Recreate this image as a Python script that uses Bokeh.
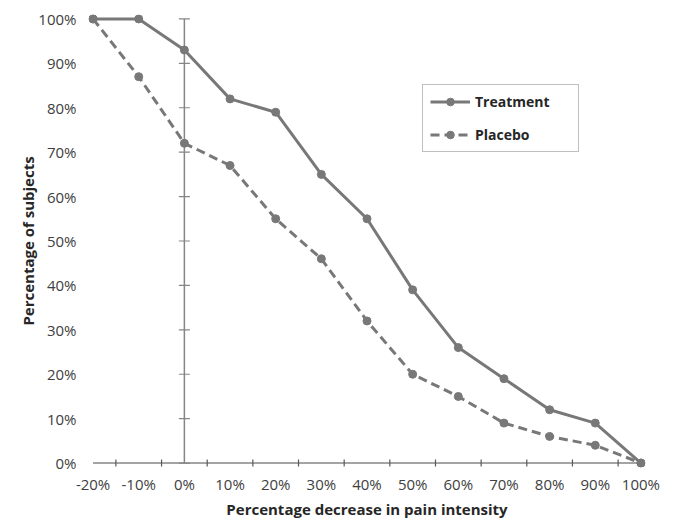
import math
from bokeh.plotting import figure
from bokeh.models import Range1d, FixedTicker, Legend, LegendItem, Title
from bokeh.embed import file_html
from bokeh.resources import INLINE

# ---- data ----
x_pct = [-20, -10, 0, 10, 20, 30, 40, 50, 60, 70, 80, 90, 100]
treatment = [100, 100, 93, 82, 79, 65, 55, 39, 26, 19, 12, 9, 0]
placebo = [100, 87, 72, 67, 55, 46, 32, 20, 15, 9, 6, 4, 0]

x_ticks = [-20, -10, 0, 10, 20, 30, 40, 50, 60, 70, 80, 90, 100]
x_tick_labels = ["-20%", "-10%", "0%", "10%", "20%", "30%", "40%", "50%",
                 "60%", "70%", "80%", "90%", "100%"]
x_minor_ticks = [-15, -5, 5, 15, 25, 35, 45, 55, 65, 75, 85, 95]
y_ticks = [0, 10, 20, 30, 40, 50, 60, 70, 80, 90, 100]
y_tick_labels = ["0%", "10%", "20%", "30%", "40%", "50%", "60%", "70%",
                 "80%", "90%", "100%"]
x_title = "Percentage decrease in pain intensity"
y_title = "Percentage of subjects"

FONT = "Open Sans"
LINE_COL = "#787878"
AXIS_COL = "#868686"
TEXT_COL = "#404040"
TITLE_COL = "#262626"

W, H = 673, 518
ML, MR, MT = 88, 28, 14

p = figure(width=W, height=H,
           x_range=Range1d(-21, 101), y_range=Range1d(-1, 101),
           output_backend="svg", toolbar_location=None,
           min_border_left=ML, min_border_right=MR,
           min_border_top=MT, min_border_bottom=0)
p.grid.visible = False
p.outline_line_color = None
p.background_fill_color = "white"
p.border_fill_color = "white"

# x axis: labels only (line and ticks drawn at y = 0 below)
xa = p.xaxis[0]
xa.ticker = FixedTicker(ticks=x_ticks)
xa.major_label_overrides = {t: l for t, l in zip(x_ticks, x_tick_labels)}
xa.axis_line_color = None
xa.major_tick_line_color = None
xa.minor_tick_line_color = None
xa.major_label_standoff = 0
xa.major_label_text_font = FONT
xa.major_label_text_font_size = "15px"
xa.major_label_text_color = TEXT_COL

# x axis title as a bottom title
p.add_layout(Title(text=x_title, align="center", text_font=FONT,
                   text_font_size="15px", text_font_style="bold",
                   text_color=TITLE_COL, standoff=0, offset=0), "below")

# y axis (labels only)
ya = p.yaxis[0]
ya.ticker = FixedTicker(ticks=y_ticks)
ya.major_label_overrides = {t: l for t, l in zip(y_ticks, y_tick_labels)}
ya.axis_line_color = None
ya.major_tick_line_color = None
ya.minor_tick_line_color = None
ya.major_label_standoff = 6
ya.major_label_text_font = FONT
ya.major_label_text_font_size = "15px"
ya.major_label_text_color = TEXT_COL
ya.axis_label = y_title
ya.axis_label_text_font = FONT
ya.axis_label_text_font_size = "15px"
ya.axis_label_text_font_style = "bold"
ya.axis_label_text_color = TITLE_COL
ya.axis_label_standoff = -3

# horizontal axis line at y = 0 with crossing minor ticks
p.segment(x0=[x_ticks[0]], y0=[y_ticks[0]], x1=[x_ticks[-1]], y1=[y_ticks[0]],
          line_color=AXIS_COL, line_width=1.5)
p.scatter(x=x_minor_ticks, y=[y_ticks[0]] * len(x_minor_ticks), marker="dash",
          angle=math.pi / 2, size=7, line_color="#595959", line_width=1.2)

# vertical axis line crossing at x = 0 with tick marks
p.segment(x0=[0], y0=[y_ticks[0]], x1=[0], y1=[y_ticks[-1]],
          line_color=AXIS_COL, line_width=1.5)
p.scatter(x=[0] * len(y_ticks), y=y_ticks, marker="dash", size=11,
          line_color=AXIS_COL, line_width=1.2)

# series
r_pl = p.line(x_pct, placebo, line_color=LINE_COL, line_width=3, line_dash="9 5")
c_pl = p.scatter(x_pct, placebo, size=8, fill_color=LINE_COL, line_color=LINE_COL)
r_tr = p.line(x_pct, treatment, line_color=LINE_COL, line_width=3)
c_tr = p.scatter(x_pct, treatment, size=8, fill_color=LINE_COL, line_color=LINE_COL)

legend = Legend(items=[LegendItem(label="Treatment", renderers=[r_tr, c_tr]),
                       LegendItem(label="Placebo", renderers=[r_pl, c_pl])],
                location=(334, 315))
legend.margin = 0
legend.padding = 7
legend.spacing = 14
legend.glyph_width = 40
legend.glyph_height = 19
legend.label_height = 19
legend.label_width = 96
legend.label_standoff = 5
legend.label_text_font = FONT
legend.label_text_font_size = "14px"
legend.label_text_font_style = "bold"
legend.label_text_color = TITLE_COL
legend.border_line_color = "#7f7f7f"
legend.border_line_width = 1
legend.background_fill_alpha = 1
p.add_layout(legend)

open("out.html", "w").write(file_html(p, INLINE))
